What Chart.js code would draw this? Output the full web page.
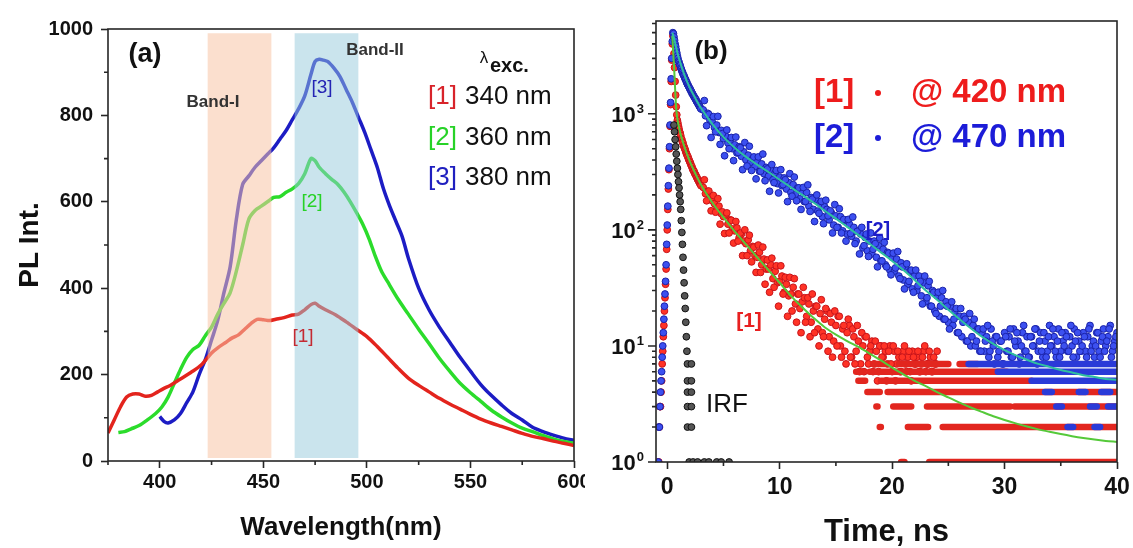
<!DOCTYPE html>
<html lang="en">
<head>
<meta charset="UTF-8">
<title>PL spectra and PL decay</title>
<script src="https://cdn.jsdelivr.net/npm/chart.js@4.4.7/dist/chart.umd.min.js"></script>
<style>
  * { margin: 0; padding: 0; box-sizing: border-box; }
  body { width: 1133px; height: 548px; background: #fff; position: relative; overflow: hidden; }
  canvas { position: absolute; top: 0; }
  #specChart { left: 0; }
  #decayChart { left: 585px; }
</style>
</head>
<body>
<canvas id="specChart" width="585" height="548"></canvas>
<canvas id="decayChart" width="548" height="548"></canvas>

<script>
// ---------- (a) PL spectra ----------
const redNm = [375,378,381,384,387,390,393,396,399,402,405,410,415,420,425,428,432,435,438,441,444,447,450,453,456,460,464,467,470,473,475,477,480,485,490,495,500,505,510,515,520,525,530,535,540,545,550,555,560,565,570,575,580,585,590,595,600];
const redPL = [65,95,125,148,155,155,150,152,160,168,175,190,205,222,250,262,275,285,292,305,318,328,327,325,328,332,338,340,350,362,365,358,350,338,322,305,288,265,240,215,192,175,160,145,132,120,108,97,88,80,72,64,57,52,46,41,36];

const greenNm = [380,383,386,390,394,398,401,404,407,410,413,416,419,422,425,428,431,434,437,440,443,446,449,452,455,458,461,464,467,470,473,475,477,480,483,486,489,492,495,498,501,504,507,510,515,520,525,530,535,540,545,550,555,560,565,570,575,580,585,590,595,600];
const greenPL = [66,68,74,82,95,110,125,148,180,212,240,258,268,290,310,340,365,390,440,500,560,580,590,600,610,612,622,630,642,665,700,695,680,665,652,640,622,600,575,548,515,475,440,415,375,340,305,272,238,208,180,158,138,118,102,88,76,68,59,51,45,41];

const blueNm = [400,402,404,407,410,413,416,419,422,425,428,431,434,437,440,443,446,449,452,455,458,461,464,467,470,473,475,477,479,481,484,487,490,493,496,499,502,505,508,511,514,517,520,525,530,535,540,545,550,555,560,565,570,575,580,585,590,595,600];
const bluePL = [103,92,88,95,110,135,160,200,235,280,326,390,450,560,640,660,680,695,710,725,745,765,790,815,845,895,925,930,928,925,910,890,860,830,795,760,720,680,630,590,555,520,470,400,350,310,275,240,208,177,152,130,110,95,78,68,60,53,48];

const bandI = [423, 454];
const bandII = [465, 496];
const bandPL = [7, 990];

const nmTicks = [400, 450, 500, 550, 600];
const nmMinor = [375, 425, 475, 525, 575];
const plTicks = [0, 200, 400, 600, 800, 1000];
const plMinor = [100, 300, 500, 700, 900];

const excTags = ['[1]', '[2]', '[3]'];
const excLabels = ['340 nm', '360 nm', '380 nm'];

// ---------- (b) PL decay ----------
// fine channels from -0.8 ns, 0.05 ns apart
const fineStart = -0.8, fineStep = 0.05;
const redFine = [1,1,2,3,3,4,5,7,9,12,15,20,26,34,46,68,
  100,150,225,330,500,780,1200,1900,2900,4000,4700,4200,3300,2500,1900,1450,1150,980,880,830,
  780,740,700,680,650,610,600,570,560,530,520,500,490,470,455,445,430,425,405,400,
  385,380,365,355,350,335,330,320,318,305,300,295,285,282,272,270,262,255,252,246,
  240];
const blueFine = [1,2,2,3,4,5,6,8,10,13,17,22,28,36,50,75,
  110,160,240,340,520,800,1250,2000,3000,4200,5000,4900,4600,4300,4000,3800,3550,3350,3150,3000,
  2850,2780,2660,2600,2480,2430,2330,2290,2210,2150,2120,2040,1990,1960,1880,1860,1790,1770,1720,1690,
  1640,1630,1570,1560,1500,1490,1450,1420,1400,1370,1340,1330,1280,1270,1240,1210,1200,1160,1150,1120,
  1100];

// coarse channels from 3.2 ns, 0.2 ns apart
const coarseStart = 3.2, coarseStep = 0.2;
const redCoarse = [
  232,205,215,185,178, 168,150,160,138,130, 135,112,122,102,98, 104,86,92,80,76,
  82,66,72,60,58, 64,50,56,46,46, 50,38,44,35,36, 40,29,34,27,28,
  32,23,28,21,24, 26,18,23,16,20, 22,14,19,13,17, 20,12,16,11,15,
  18,10,14,9,13, 15,8,12,9,11, 7,10,12,8,9, 11,7,9,6,10,
  8,9,7,10,6, 9,7,8,6,9, 7,8,6,9,7, 8,6,7,9,6, 7,8,6,7,9];
const blueCoarse = [
  1080,960,1010,880,850, 760,800,690,720,610, 640,560,590,500,540, 460,520,430,470,400,
  440,380,410,350,390, 320,370,305,345,290, 330,270,310,250,285, 240,280,225,255,210,
  245,200,230,185,215, 175,210,160,190,150, 182,145,170,130,158, 150,122,140,110,132,
  105,130,98,120,92, 112,88,105,80,98, 92,70,86,66,80, 62,80,58,73,54,
  68,50,64,45,58, 44,56,40,52,37, 48,34,44,31,40, 30,40,27,35,24,
  33,22,30,20,27, 18,26,17,24,16, 22,15,20,13,18, 12,18,11,16,10,
  15,10,14,9,13, 9,12,8,14,10, 12,8,11,7,13, 9,12,8,14,10,
  11,8,13,9,12, 8,12,10,14,9, 13,8,11,9,15, 10,12,8,14,9,
  11,13,9,12,10, 14,8,11,9,13, 9,12,15,10,8, 13,9,11,14,10,
  12,15,9,11,13];

// second set of coarse channels, offset by 0.1 ns
const coarseStart2 = 3.3;
const redCoarse2 = [
  270,178,216,146, 198,142,186,112,143, 93,140,94,121,77, 118,80,94,60,100,
  60,90,53,71,43, 74,43,71,34,55, 29,57,32,49,22, 49,28,39,18,39,
  20,38,16,28,13, 32,16,26,12,28, 13,22,10,25,12, 21,9,19,8,20,
  10,18,8,15,7, 17,8,14,7,15, 6,13,6,12,7, 10,6,11,5,10,
  8,10,5,9,7, 10,5,9,6,8, 10,6,9,5,8, 7,9,6,8,10, 7,9,6,8,7];
const blueCoarse2 = [
  1300,790,990,625, 945,700,950,545,675, 435,725,500,625,395, 630,465,510,330,565,
  355,525,325,425,275, 425,320,450,265,335, 215,365,255,325,208, 330,245,270,175,305,
  195,285,178,230,150, 232,176,244,144,184, 118,200,139,176,113, 180,132,146,94,165,
  105,152,94,123,80, 123,93,129,76,97, 62,105,73,92,59, 94,68,76,48,85,
  54,78,48,63,41, 63,47,65,38,48, 31,51,36,45,29, 45,33,36,23,40,
  26,36,22,29,19, 29,22,30,17,22, 14,24,17,21,13, 21,16,17,11,19,
  12,17,11,14,9, 14,11,15,9,11, 7,12,9,11,7,
  12,9,14,8,11, 13,7,10,15,9, 8,12,10,14,7, 11,9,13,8,12,
  10,14,9,11,8, 13,10,12,9,15, 8,11,13,9,10, 12,8,14,9,11,
  10,13,8,12,9, 11,14,8,10,12];

// runs of equal counts in the tail: [count, from ns, to ns]
const redRows = [
  [1, 20.8, 21.1], [1, 23.3, 40],
  [2, 18.9, 19.0], [2, 21.4, 23.2], [2, 24.5, 40],
  [3, 18.6, 18.7], [3, 20.1, 21.7], [3, 23.1, 30.5], [3, 30.9, 40],
  [4, 17.8, 18.9], [4, 19.6, 40],
  [5, 17.0, 17.6], [5, 19.0, 32.4],
  [6, 16.8, 17.4], [6, 18.0, 30.2],
  [7, 18.3, 19.5], [7, 20.6, 25.0], [7, 26.0, 27.6]
];
const blueRows = [
  [7, 26.8, 40], [6, 29.4, 40], [5, 32.4, 40],
  [4, 33.6, 34.2], [4, 36.6, 37.2], [4, 38.6, 39.4],
  [3, 34.6, 35.1], [3, 37.6, 38.2], [3, 39.2, 40],
  [2, 35.6, 36.1], [2, 38.0, 38.5]
];

const irfTime = [0.6,0.65,0.7,0.75,0.8,0.85,0.9,0.95,1.0,1.05,1.1,1.15,1.2,1.25,1.3,1.35,1.4,1.45,1.5,1.55,1.6,1.65,1.7,1.75,
  1.8,2.15, 1.8,2.15, 1.8,2.15, 1.8,2.15, 1.8,2.15, 1.95,2.3,2.7,3.3,3.7,4.4,4.8,5.5];
const irfCounts = [800,700,600,520,450,390,340,300,260,230,200,175,150,120,95,75,58,45,35,27,21,16,12,9,
  7,7, 5,5, 4,4, 3,3, 2,2, 1,1,1,1,1,1,1,1];

const fitTime = [0.45,0.6,0.8,1,1.5,2,2.5,3,4,5,6,7,8,9,10,11,12,13,14,15,16,17,18,19,20,21,22,23,24,25,26,27,28,29,30,31,32,33,34,35,36,37,38,39,40];
const redFit = [4700,2600,1100,800,530,390,305,245,172,128,97,75,58,45,35,27,21.5,17.5,14.5,12.5,11,9.8,8.6,7.5,6.5,5.7,5.0,4.5,4.0,3.6,3.25,2.95,2.7,2.48,2.3,2.15,2.02,1.91,1.82,1.74,1.67,1.61,1.56,1.52,1.49];
const blueFit = [5000,4500,3700,3100,2200,1680,1360,1120,820,630,510,425,365,315,270,232,200,172,146,125,106,90,76,64,54,45,37,30,25,20.5,17,14.2,12,10.4,9.2,8.3,7.6,7.0,6.6,6.2,5.9,5.6,5.4,5.2,5.1];

const timeTicks = [0, 10, 20, 30, 40];
const timeMinor = [5, 15, 25, 35];
const countTicks = [1, 10, 100, 1000];
const countExp = ['0', '1', '2', '3'];
const countMinor = [2,3,4,5,6,7,8,9,20,30,40,50,60,70,80,90,200,300,400,500,600,700,800,900,2000,3000,4000,5000,6000];

const FONT = "'Liberation Sans', Arial, Helvetica, sans-serif";
const INK = '#111';
const AXIS = '#262626';
Chart.defaults.font.family = FONT;
Chart.defaults.color = INK;

function pairs(xs, ys) {
  return xs.map((x, i) => ({ x: x, y: ys[i] }));
}
function channels(start, step, counts) {
  return counts.map((c, i) => ({ x: +(start + i * step).toFixed(2), y: c }));
}
function runs(rows) {
  const out = [];
  rows.forEach(r => { out.push({ x: r[1], y: r[0] }, { x: r[2], y: r[0] }, { x: r[2], y: null }); });
  return out;
}
function fixTicks(list) {
  return scale => { scale.ticks = list.map(v => ({ value: v })); };
}
function fixSize(w, h) {
  return scale => {
    if (w != null) scale.width = w;
    if (h != null) scale.height = h;
    scale.paddingLeft = 0; scale.paddingRight = 0;
    scale.paddingTop = 0; scale.paddingBottom = 0;
  };
}
function text(ctx, str, x, y, font, color, align) {
  ctx.font = font + ' ' + FONT;
  ctx.fillStyle = color;
  ctx.textAlign = align || 'center';
  ctx.textBaseline = 'middle';
  ctx.fillText(str, x, y);
}

// ---------- panel (a) ----------
const specNotes = {
  id: 'specNotes',
  afterDatasetsDraw(chart) {
    const { ctx, chartArea: a, scales: { x, y } } = chart;
    ctx.save();
    ctx.strokeStyle = AXIS;
    ctx.lineWidth = 1.6;
    ctx.strokeRect(a.left, a.top, a.right - a.left, a.bottom - a.top);
    ctx.beginPath();
    nmMinor.forEach(v => { const p = x.getPixelForValue(v); ctx.moveTo(p, a.bottom); ctx.lineTo(p, a.bottom + 4); });
    plMinor.forEach(v => { const p = y.getPixelForValue(v); ctx.moveTo(a.left, p); ctx.lineTo(a.left - 4, p); });
    ctx.stroke();

    const L = a.left, T = a.top;
    text(ctx, '(a)', L + 37, T + 26, 'bold 27px', INK);
    text(ctx, 'Band-I', L + 105, T + 73, 'bold 17px', '#333');
    text(ctx, 'Band-II', L + 267, T + 21, 'bold 17px', '#333');
    text(ctx, 'λ', L + 376, T + 29, '17px', INK);
    text(ctx, 'exc.', L + 382, T + 37, 'bold 20px', INK, 'left');

    const colors = ['#d8232a', '#27d227', '#1f1fbf'];
    const rowsY = [68, 109, 149];
    excTags.forEach((t, i) => {
      text(ctx, t, L + 320, T + rowsY[i], '26px', colors[i], 'left');
      text(ctx, excLabels[i], L + 357, T + rowsY[i], '26px', INK, 'left');
    });

    text(ctx, '[3]', L + 214, T + 59, '19px', '#2424b4');
    text(ctx, '[2]', L + 204, T + 173, '19px', '#27d227');
    text(ctx, '[1]', L + 195, T + 308, '19px', '#c42a32');
    ctx.restore();
  }
};

function band(span, color) {
  return {
    data: [{ x: span[0], y: bandPL[1] }, { x: span[1], y: bandPL[1] }],
    fill: { value: bandPL[0] },
    backgroundColor: color,
    borderWidth: 0,
    pointRadius: 0,
    order: 0
  };
}
function spectrum(nm, pl, color) {
  return {
    data: pairs(nm, pl),
    borderColor: color,
    borderWidth: 3.5,
    pointRadius: 0,
    tension: 0.3,
    fill: false,
    order: 1
  };
}

new Chart(document.getElementById('specChart'), {
  type: 'line',
  data: {
    datasets: [
      band(bandI, 'rgba(247,197,165,0.55)'),
      band(bandII, 'rgba(150,202,220,0.5)'),
      spectrum(redNm, redPL, '#e3241d'),
      spectrum(greenNm, greenPL, '#2bdc2b'),
      spectrum(blueNm, bluePL, '#1c1cc4')
    ]
  },
  options: {
    responsive: false,
    animation: false,
    layout: { padding: { top: 29, right: 11, left: 0, bottom: 0 } },
    plugins: { legend: { display: false }, tooltip: { enabled: false } },
    scales: {
      x: {
        type: 'linear', min: 375, max: 600,
        afterBuildTicks: fixTicks(nmTicks),
        afterFit: fixSize(null, 87),
        border: { display: false },
        grid: { drawOnChartArea: false, tickLength: 7, tickWidth: 1.6, tickColor: AXIS },
        ticks: { font: { size: 20, weight: 'bold' }, padding: 2, maxRotation: 0, callback: v => String(v) },
        title: { display: true, text: 'Wavelength(nm)', font: { size: 26, weight: 'bold' }, padding: { bottom: 5, top: 0 } }
      },
      y: {
        min: 0, max: 1000,
        afterBuildTicks: fixTicks(plTicks),
        afterFit: fixSize(108, null),
        border: { display: false },
        grid: { drawOnChartArea: false, tickLength: 7, tickWidth: 1.6, tickColor: AXIS },
        ticks: { font: { size: 20, weight: 'bold' }, padding: 8, callback: v => String(v) },
        title: { display: true, text: 'PL Int.', font: { size: 28, weight: 'bold' }, padding: { top: 13, bottom: 0 } }
      }
    }
  },
  plugins: [specNotes]
});

// ---------- panel (b) ----------
const decayNotes = {
  id: 'decayNotes',
  afterDatasetsDraw(chart) {
    const { ctx, chartArea: a, scales: { x, y } } = chart;
    ctx.save();
    ctx.strokeStyle = AXIS;
    ctx.lineWidth = 1.6;
    ctx.strokeRect(a.left, a.top, a.right - a.left, a.bottom - a.top);
    ctx.beginPath();
    timeMinor.forEach(v => { const p = x.getPixelForValue(v); ctx.moveTo(p, a.bottom); ctx.lineTo(p, a.bottom + 4); });
    countMinor.forEach(v => { const p = y.getPixelForValue(v); ctx.moveTo(a.left, p); ctx.lineTo(a.left - 4, p); });
    countTicks.forEach(v => { const p = y.getPixelForValue(v); ctx.moveTo(a.left, p); ctx.lineTo(a.left - 8, p); });
    ctx.stroke();

    // 10^n tick labels
    countTicks.forEach((v, i) => {
      const p = y.getPixelForValue(v);
      const right = a.left - 12;
      ctx.fillStyle = INK;
      ctx.textAlign = 'right';
      ctx.textBaseline = 'alphabetic';
      ctx.font = 'bold 13px ' + FONT;
      ctx.fillText(countExp[i], right, p - 1);
      const w = ctx.measureText(countExp[i]).width;
      ctx.font = 'bold 22px ' + FONT;
      ctx.fillText('10', right - w - 1, p + 8);
    });

    const L = a.left, T = a.top;
    text(ctx, '(b)', L + 55, T + 31, 'bold 26px', INK);
    const rowY = [72, 117];
    const tags = ['[1]', '[2]'];
    const labels = ['@ 420 nm', '@ 470 nm'];
    const fills = ['#ee1c1c', '#1c1cd8'];
    tags.forEach((t, i) => {
      text(ctx, t, L + 158, T + rowY[i], 'bold 33px', fills[i], 'left');
      text(ctx, labels[i], L + 255, T + rowY[i], 'bold 33px', fills[i], 'left');
      ctx.beginPath();
      ctx.arc(L + 222, T + rowY[i], 3, 0, Math.PI * 2);
      ctx.fillStyle = fills[i];
      ctx.fill();
    });
    text(ctx, '[2]', L + 222, T + 209, 'bold 20px', '#1c1cc8');
    text(ctx, '[1]', L + 93, T + 300, 'bold 21px', '#e82020');
    text(ctx, 'IRF', L + 71, T + 384, '26px', INK);
    ctx.restore();
  }
};

function dots(data, fill, edge, order) {
  return {
    data: data,
    showLine: false,
    pointRadius: 3.4,
    pointBorderWidth: 1,
    pointBackgroundColor: fill,
    pointBorderColor: edge,
    order: order
  };
}
function rowLine(data, color, order) {
  return {
    data: data,
    borderColor: color,
    borderWidth: 6.5,
    borderCapStyle: 'round',
    pointRadius: 0,
    spanGaps: false,
    order: order
  };
}
function fitLine(data, color) {
  return {
    data: data,
    borderColor: color,
    borderWidth: 2,
    pointRadius: 0,
    cubicInterpolationMode: 'monotone',
    order: 0
  };
}

const redData = channels(fineStart, fineStep, redFine)
  .concat(channels(coarseStart, coarseStep, redCoarse))
  .concat(channels(coarseStart2, coarseStep, redCoarse2));
const blueData = channels(fineStart, fineStep, blueFine)
  .concat(channels(coarseStart, coarseStep, blueCoarse))
  .concat(channels(coarseStart2, coarseStep, blueCoarse2));

new Chart(document.getElementById('decayChart'), {
  type: 'line',
  data: {
    datasets: [
      fitLine(pairs(fitTime, blueFit), '#2ebfa0'),
      fitLine(pairs(fitTime, redFit), '#55c93a'),
      dots(pairs(irfTime, irfCounts), '#555', '#111', 1),
      rowLine(runs(blueRows), '#2a3ad8', 2),
      dots(blueData, '#3c50f0', '#1a22a8', 3),
      rowLine(runs(redRows), '#e2261f', 4),
      dots(redData, '#ff3326', '#c8141a', 5)
    ]
  },
  options: {
    responsive: false,
    animation: false,
    layout: { padding: { top: 21, right: 16, left: 0, bottom: 0 } },
    plugins: { legend: { display: false }, tooltip: { enabled: false } },
    scales: {
      x: {
        type: 'linear', min: -1, max: 40,
        afterBuildTicks: fixTicks(timeTicks),
        afterFit: fixSize(null, 86),
        border: { display: false },
        grid: { drawOnChartArea: false, tickLength: 7, tickWidth: 1.6, tickColor: AXIS },
        ticks: { font: { size: 23, weight: 'bold' }, padding: 5, maxRotation: 0 },
        title: { display: true, text: 'Time, ns', font: { size: 31, weight: 'bold', lineHeight: 1 }, padding: 0 }
      },
      y: {
        type: 'logarithmic', min: 1, max: 6300,
        afterFit: fixSize(71, null),
        border: { display: false },
        grid: { display: false },
        ticks: { display: false }
      }
    }
  },
  plugins: [decayNotes]
});
</script>
</body>
</html>
